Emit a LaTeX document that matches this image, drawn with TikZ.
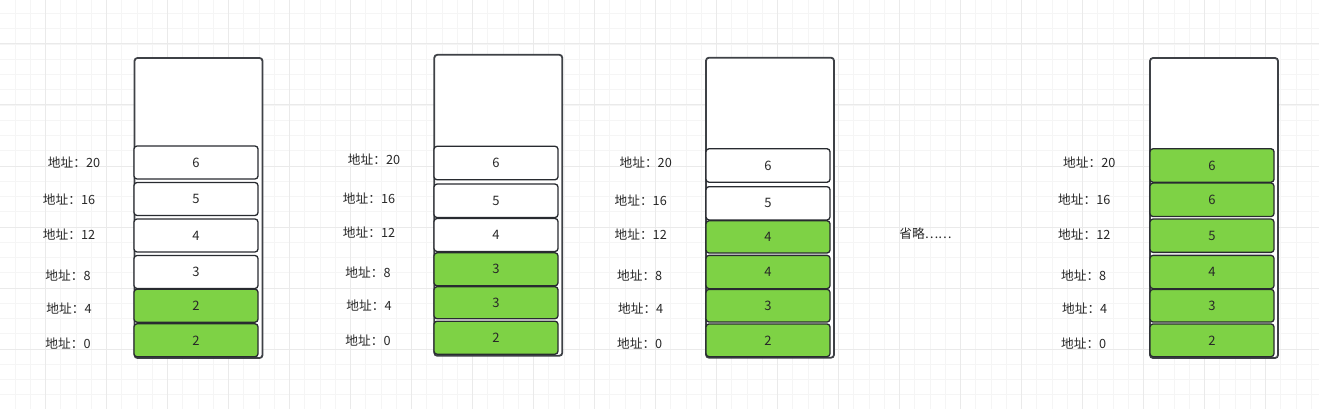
\documentclass[tikz,border=0pt]{standalone}
\usepackage{fontspec}
\setmainfont{Noto Sans CJK SC}
\definecolor{gridminor}{RGB}{245,245,245}
\definecolor{gridmajor}{RGB}{234,234,234}
\definecolor{cellgreen}{RGB}{126,210,69}
\definecolor{edge}{RGB}{40,43,48}
\definecolor{outeredge}{RGB}{62,65,70}
\definecolor{txt}{RGB}{40,40,40}
\tikzset{
  outerbox/.style={draw=outeredge, line width=1.8pt, rounded corners=3pt, fill=white, minimum width=128pt, minimum height=300pt, inner sep=0pt},
  cellw/.style={draw=edge, line width=1.3pt, rounded corners=3pt, fill=white, minimum width=124pt, inner sep=0pt, text=txt, font=\fontsize{13}{15}\selectfont},
  cellg/.style={cellw, fill=cellgreen},
  addr/.style={inner sep=0pt, text=txt, font=\fontsize{12.7}{15}\selectfont},
}
\begin{document}
\begin{tikzpicture}[x=1pt,y=-1pt]
\useasboundingbox (0,0) rectangle (1319,409);
\fill[white] (0,0) rectangle (1319,409);
\begin{scope}
\clip (0,0) rectangle (1319,409);
\foreach \i in {0,...,87} {
  \draw[gridminor, line width=0.8pt] ({-0.25+15.25*\i},0) -- ({-0.25+15.25*\i},409);
}
\foreach \i in {0,...,27} {
  \draw[gridminor, line width=0.8pt] (0,{-1.75+15.25*\i}) -- (1319,{-1.75+15.25*\i});
}
\foreach \i in {0,...,22} {
  \draw[gridmajor, line width=1pt] ({45.5+61*(\i-1)},0) -- ({45.5+61*(\i-1)},409);
}
\foreach \i in {0,...,7} {
  \draw[gridmajor, line width=1pt] (0,{44+61*(\i-1)}) -- (1319,{44+61*(\i-1)});
}
\end{scope}

% ---------- stack 1 ----------
\node[outerbox] (o1) at (198.5,208) {};
\node[cellw, minimum height=33pt] (a6) at (196,162.5) {6};
\node[cellw, minimum height=33pt] (a5) at (196,199) {5};
\node[cellw, minimum height=33pt] (a4) at (196,235.5) {4};
\node[cellw, minimum height=33pt] (a3) at (196,272) {3};
\node[cellg, minimum height=33pt] (a2) at (196,305.7) {2};
\node[cellg, minimum height=33pt] (a1) at (196,340.3) {2};
\node[addr] (la20) at (74,162.3) {地址：20};
\node[addr] (la16) at (69,200) {地址：16};
\node[addr] (la12) at (69,235) {地址：12};
\node[addr] (la8) at (68,275.3) {地址：8};
\node[addr] (la4) at (69,309) {地址：4};
\node[addr] (la0) at (68,343.3) {地址：0};

% ---------- stack 2 ----------
\node[outerbox, minimum height=301pt] (o2) at (498.3,205.3) {};
\node[cellw, minimum height=33.5pt] (b6) at (496,163) {6};
\node[cellw, minimum height=33.5pt] (b5) at (496,200.8) {5};
\node[cellw, minimum height=33pt] (b4) at (496,235) {4};
\node[cellg, minimum height=33pt] (b3) at (496,269.3) {3};
\node[cellg, minimum height=32pt] (b2) at (496,302.7) {3};
\node[cellg, minimum height=33pt] (b1) at (496,337.7) {2};
\node[addr] (lb20) at (374,160) {地址：20};
\node[addr] (lb16) at (369,198.3) {地址：16};
\node[addr] (lb12) at (369,232.7) {地址：12};
\node[addr] (lb8) at (368,272.7) {地址：8};
\node[addr] (lb4) at (369,306) {地址：4};
\node[addr] (lb0) at (368,341) {地址：0};

% ---------- stack 3 ----------
\node[outerbox] (o3) at (770,207.7) {};
\node[cellw, minimum height=33.5pt] (c6) at (768,165.5) {6};
\node[cellw, minimum height=33.3pt] (c5) at (768,203.3) {5};
\node[cellg, minimum height=32.3pt] (c4) at (768,236.9) {4};
\node[cellg, minimum height=33.3pt] (c3) at (768,272) {4};
\node[cellg, minimum height=32.7pt] (c2) at (768,305.7) {3};
\node[cellg, minimum height=32.7pt] (c1) at (768,340.3) {2};
\node[addr] (lc20) at (645.7,162.7) {地址：20};
\node[addr] (lc16) at (640.7,201) {地址：16};
\node[addr] (lc12) at (640.7,235) {地址：12};
\node[addr] (lc8) at (639.7,276) {地址：8};
\node[addr] (lc4) at (640.7,309) {地址：4};
\node[addr] (lc0) at (639.7,344) {地址：0};

% ---------- omitted ----------
\node[addr] (omit) at (925.5,233.3) {省略……};

% ---------- stack 4 ----------
\node[outerbox] (o4) at (1214,208) {};
\node[cellg, minimum height=33.5pt] (d6) at (1212,165.5) {6};
\node[cellg, minimum height=33.5pt] (d5) at (1212,199.8) {6};
\node[cellg, minimum height=33.3pt] (d4) at (1212,235.7) {5};
\node[cellg, minimum height=33.3pt] (d3) at (1212,272) {4};
\node[cellg, minimum height=32.7pt] (d2) at (1212,305.7) {3};
\node[cellg, minimum height=32.7pt] (d1) at (1212,340.3) {2};
\node[addr] (ld20) at (1089.3,162.3) {地址：20};
\node[addr] (ld16) at (1084.3,200) {地址：16};
\node[addr] (ld12) at (1084.3,235) {地址：12};
\node[addr] (ld8) at (1083.7,275.3) {地址：8};
\node[addr] (ld4) at (1084.7,309) {地址：4};
\node[addr] (ld0) at (1083.7,344) {地址：0};
\end{tikzpicture}
\end{document}
